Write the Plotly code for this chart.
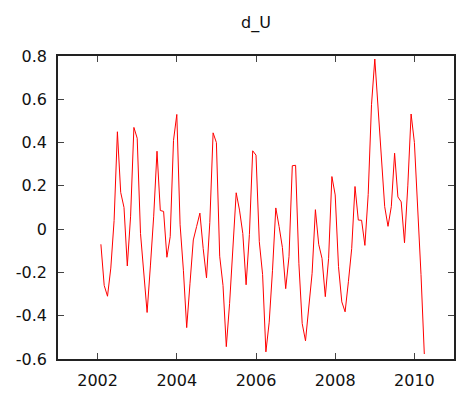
import plotly.graph_objects as go

start_year = 2002
start_month = 2  # February 2002, monthly data
d_U = [
    -0.07, -0.26, -0.31, -0.18, 0.04, 0.45, 0.17, 0.10, -0.17, 0.06,
    0.47, 0.42, -0.02, -0.19, -0.385, -0.17, 0.06, 0.36, 0.086, 0.082,
    -0.13, -0.035, 0.41, 0.53, 0.02, -0.19, -0.455, -0.25, -0.05, 0.012,
    0.074, -0.09, -0.225, 0.03, 0.445, 0.40, -0.125, -0.26, -0.543, -0.343,
    -0.08, 0.168, 0.088, -0.02, -0.257, -0.025, 0.362, 0.342, -0.058, -0.21,
    -0.567, -0.43, -0.19, 0.098, 0.012, -0.085, -0.275, -0.127, 0.293, 0.295,
    -0.16, -0.436, -0.516, -0.367, -0.204, 0.09, -0.07, -0.135, -0.312, -0.135,
    0.243, 0.158, -0.173, -0.336, -0.382, -0.243, -0.09, 0.197, 0.042, 0.041,
    -0.075, 0.16, 0.575, 0.786, 0.55, 0.335, 0.104, 0.013, 0.104, 0.351,
    0.149, 0.126, -0.063, 0.2, 0.532, 0.40, 0.105, -0.21, -0.577,
]
x_ticks = [2002, 2004, 2006, 2008, 2010]
y_ticks = [-0.6, -0.4, -0.2, 0, 0.2, 0.4, 0.6, 0.8]
y_tick_labels = ["-0.6", "-0.4", "-0.2", "0", "0.2", "0.4", "0.6", "0.8"]

t = [start_year + (start_month - 1 + k) / 12 for k in range(len(d_U))]

fig = go.Figure()
fig.add_trace(go.Scatter(x=t, y=d_U, mode="lines",
                         line=dict(color="#ff0000", width=1), showlegend=False))

font = dict(family="DejaVu Sans", size=16, color="#111111")
fig.update_layout(
    width=457, height=394,
    margin=dict(l=58, r=1, t=56, b=35),
    paper_bgcolor="white", plot_bgcolor="white",
    title=dict(text="d_U", x=0.5, xref="paper", xanchor="center", y=1 - 22 / 394, yanchor="middle",
               font=dict(family="DejaVu Sans", size=16, color="#111111")),
    font=font,
    xaxis=dict(range=[2001.0, 2011.0], tickvals=x_ticks, ticktext=[str(v) for v in x_ticks],
               ticks="inside", ticklen=6, tickwidth=1, tickcolor="#444444",
               showline=True, linecolor="#222222", linewidth=1.5, mirror="ticks",
               showgrid=False, zeroline=False, tickfont=font, ticklabelstandoff=6),
    yaxis=dict(range=[-0.6, 0.8], tickvals=y_ticks, ticktext=y_tick_labels,
               ticks="inside", ticklen=6, tickwidth=1, tickcolor="#444444",
               showline=True, linecolor="#222222", linewidth=1.5, mirror="ticks",
               showgrid=False, zeroline=False, tickfont=font, ticklabelstandoff=6),
)
fig.write_html("out.html")
